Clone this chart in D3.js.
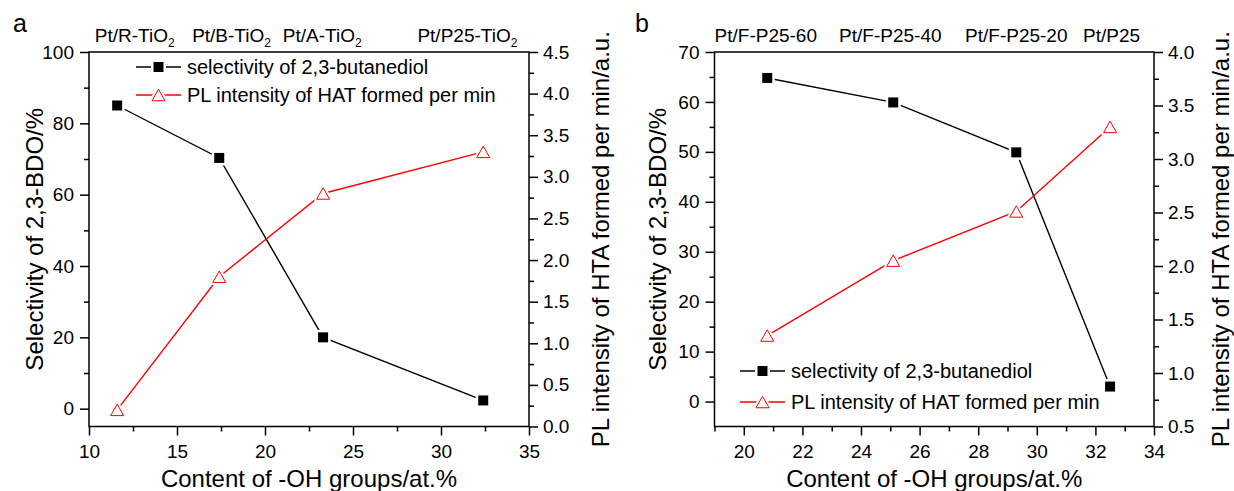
<!DOCTYPE html>
<html>
<head>
<meta charset="utf-8">
<script src="https://cdn.jsdelivr.net/npm/d3@7"></script>
<style>
  body { margin: 0; background: #fff; }
  svg { display: block; }
  text { font-family: "Liberation Sans", Arial, Helvetica, sans-serif; fill: #000; }
</style>
</head>
<body>
<svg id="chart" width="1234" height="491"></svg>
<script>
// ---- Panel a: TiO2 polymorphs ----
const ohA = [11.6, 17.4, 23.3, 32.4];
const selectivityA = [85.0, 70.3, 20.0, 2.3];
const plA = [0.20, 1.80, 2.80, 3.30];
const samplesA = ["Pt/R-TiO", "Pt/B-TiO", "Pt/A-TiO", "Pt/P25-TiO"];
const samplesSubA = ["2", "2", "2", "2"];
const samplePosA = [12.6, 18.1, 23.25, 31.5];
const xTicksA = [10, 15, 20, 25, 30, 35];
const xMinorA = [12.5, 17.5, 22.5, 27.5, 32.5];
const leftTicksA = [0, 20, 40, 60, 80, 100];
const leftMinorA = [10, 30, 50, 70, 90];
const rightTicksA = [0.0, 0.5, 1.0, 1.5, 2.0, 2.5, 3.0, 3.5, 4.0, 4.5];
const rightMinorA = [0.25, 0.75, 1.25, 1.75, 2.25, 2.75, 3.25, 3.75, 4.25];

// ---- Panel b: fluorinated P25 ----
const ohB = [20.8, 25.1, 29.3, 32.5];
const selectivityB = [64.8, 59.9, 49.9, 3.0];
const plB = [1.35, 2.05, 2.51, 3.30];
const samplesB = ["Pt/F-P25-60", "Pt/F-P25-40", "Pt/F-P25-20", "Pt/P25"];
const samplesSubB = ["", "", "", ""];
const samplePosB = [20.75, 25.0, 29.3, 32.55];
const xTicksB = [20, 22, 24, 26, 28, 30, 32, 34];
const xMinorB = [19, 21, 23, 25, 27, 29, 31, 33];
const leftTicksB = [0, 10, 20, 30, 40, 50, 60, 70];
const leftMinorB = [5, 15, 25, 35, 45, 55, 65];
const rightTicksB = [0.5, 1.0, 1.5, 2.0, 2.5, 3.0, 3.5, 4.0];
const rightMinorB = [0.75, 1.25, 1.75, 2.25, 2.75, 3.25, 3.75];

const seriesNames = ["selectivity of 2,3-butanediol", "PL intensity of HAT formed per min"];
const xTitle = "Content of -OH groups/at.%";
const leftTitle = "Selectivity of 2,3-BDO/%";
const rightTitle = "PL intensity of HTA formed per min/a.u.";

const svg = d3.select("#chart");
const RED = "#ff0000";

function squarePath(s) {
  return `M${-s / 2},${-s / 2}h${s}v${s}h${-s}Z`;
}
function trianglePath(w, h) {
  return `M0,${-h / 2}L${w / 2},${h / 2}L${-w / 2},${h / 2}Z`;
}

function drawSquare(g, x, y) {
  g.append("path").attr("d", squarePath(15)).attr("transform", `translate(${x},${y})`).attr("fill", "#fff");
  g.append("path").attr("d", squarePath(10)).attr("transform", `translate(${x},${y})`).attr("fill", "#000");
}
function drawTriangle(g, x, y) {
  g.append("path").attr("d", trianglePath(13, 11.5)).attr("transform", `translate(${x},${y})`)
    .attr("fill", "#fff").attr("stroke", "#fff").attr("stroke-width", 5).attr("stroke-linejoin", "round");
  g.append("path").attr("d", trianglePath(13, 11.5)).attr("transform", `translate(${x},${y})`)
    .attr("fill", "#fff").attr("stroke", RED).attr("stroke-width", 1);
}

function styleAxis(sel) {
  sel.selectAll(".domain").remove();
  sel.selectAll(".tick line").attr("stroke", "#000").attr("stroke-width", 1.5);
  sel.selectAll(".tick text").attr("font-size", 19).attr("font-family", '"Liberation Sans", Arial, sans-serif').attr("fill", "#000");
}

function drawPanel(p) {
  const g = svg.append("g");
  const x = d3.scaleLinear().domain(p.xDomain).range([p.left, p.right]);
  const yL = d3.scaleLinear().domain(p.leftDomain).range([p.bottom, p.top]);
  const yR = d3.scaleLinear().domain(p.rightDomain).range([p.bottom, p.top]);

  // axes: major ticks with labels, minor ticks without
  const bx = g.append("g").attr("transform", `translate(0,${p.bottom})`)
    .call(d3.axisBottom(x).tickValues(p.xTicks).tickSize(9).tickPadding(9).tickFormat(d3.format("d")));
  styleAxis(bx);
  const bxm = g.append("g").attr("transform", `translate(0,${p.bottom})`)
    .call(d3.axisBottom(x).tickValues(p.xMinor).tickSize(5).tickFormat(""));
  styleAxis(bxm);

  const ly = g.append("g").attr("transform", `translate(${p.left},0)`)
    .call(d3.axisLeft(yL).tickValues(p.leftTicks).tickSize(9).tickPadding(6).tickFormat(d3.format("d")));
  styleAxis(ly);
  const lym = g.append("g").attr("transform", `translate(${p.left},0)`)
    .call(d3.axisLeft(yL).tickValues(p.leftMinor).tickSize(5).tickFormat(""));
  styleAxis(lym);

  const ry = g.append("g").attr("transform", `translate(${p.right},0)`)
    .call(d3.axisRight(yR).tickValues(p.rightTicks).tickSize(9).tickPadding(5).tickFormat(d3.format(".1f")));
  styleAxis(ry);
  const rym = g.append("g").attr("transform", `translate(${p.right},0)`)
    .call(d3.axisRight(yR).tickValues(p.rightMinor).tickSize(5).tickFormat(""));
  styleAxis(rym);

  // frame
  g.append("rect").attr("x", p.left).attr("y", p.top)
    .attr("width", p.right - p.left).attr("height", p.bottom - p.top)
    .attr("fill", "none").attr("stroke", "#000").attr("stroke-width", 1.5);

  // sample names above the frame
  p.samples.forEach((s, i) => {
    const t = g.append("text").attr("x", x(p.samplePos[i])).attr("y", p.top - 10)
      .attr("text-anchor", "middle").attr("font-size", 19);
    t.append("tspan").text(s);
    if (p.samplesSub[i]) t.append("tspan").attr("font-size", 12).attr("dy", 5).text(p.samplesSub[i]);
  });

  // lines
  const lineSel = d3.line().x((d, i) => x(p.oh[i])).y(d => yL(d));
  const linePl = d3.line().x((d, i) => x(p.oh[i])).y(d => yR(d));
  g.append("path").attr("d", lineSel(p.selectivity)).attr("fill", "none").attr("stroke", "#000").attr("stroke-width", 1.4);
  g.append("path").attr("d", linePl(p.pl)).attr("fill", "none").attr("stroke", RED).attr("stroke-width", 1.4);

  // markers
  p.selectivity.forEach((v, i) => drawSquare(g, x(p.oh[i]), yL(v)));
  p.pl.forEach((v, i) => drawTriangle(g, x(p.oh[i]), yR(v)));

  // legend
  const lg = g.append("g");
  [0, 1].forEach(k => {
    const ly0 = p.legendY[k];
    lg.append("line").attr("x1", p.legendX).attr("x2", p.legendX + 45).attr("y1", ly0).attr("y2", ly0)
      .attr("stroke", k === 0 ? "#000" : RED).attr("stroke-width", 1.4);
    if (k === 0) drawSquare(lg, p.legendX + 22.5, ly0);
    else drawTriangle(lg, p.legendX + 22.5, ly0);
    lg.append("text").attr("x", p.legendX + 51).attr("y", ly0).attr("dy", "0.36em")
      .attr("font-size", 20).text(seriesNames[k]);
  });

  // titles
  g.append("text").attr("x", (p.left + p.right) / 2).attr("y", 487)
    .attr("text-anchor", "middle").attr("font-size", 24).text(xTitle);
  const cy = (p.top + p.bottom) / 2;
  g.append("text").attr("transform", `translate(${p.leftTitleX},${cy}) rotate(-90)`)
    .attr("text-anchor", "middle").attr("dy", "0.36em").attr("font-size", 24).text(leftTitle);
  g.append("text").attr("transform", `translate(${p.rightTitleX},${cy}) rotate(-90)`)
    .attr("text-anchor", "middle").attr("dy", "0.36em").attr("font-size", 24).text(rightTitle);

  // panel letter
  g.append("text").attr("x", p.letterX).attr("y", 32).attr("font-size", 25).text(p.letter);
}

drawPanel({
  letter: "a", letterX: 13,
  left: 89, right: 529, top: 52, bottom: 426.5,
  xDomain: [10, 35], leftDomain: [-5, 100], rightDomain: [0, 4.5],
  xTicks: xTicksA, xMinor: xMinorA, leftTicks: leftTicksA, leftMinor: leftMinorA,
  rightTicks: rightTicksA, rightMinor: rightMinorA,
  oh: ohA, selectivity: selectivityA, pl: plA,
  samples: samplesA, samplesSub: samplesSubA, samplePos: samplePosA,
  legendX: 136, legendY: [67, 95],
  leftTitleX: 34, rightTitleX: 600
});

drawPanel({
  letter: "b", letterX: 635,
  left: 714.5, right: 1154, top: 52, bottom: 426.5,
  xDomain: [19, 34], leftDomain: [-5, 70], rightDomain: [0.5, 4.0],
  xTicks: xTicksB, xMinor: xMinorB, leftTicks: leftTicksB, leftMinor: leftMinorB,
  rightTicks: rightTicksB, rightMinor: rightMinorB,
  oh: ohB, selectivity: selectivityB, pl: plB,
  samples: samplesB, samplesSub: samplesSubB, samplePos: samplePosB,
  legendX: 740, legendY: [371, 402],
  leftTitleX: 657, rightTitleX: 1220
});
</script>
</body>
</html>
